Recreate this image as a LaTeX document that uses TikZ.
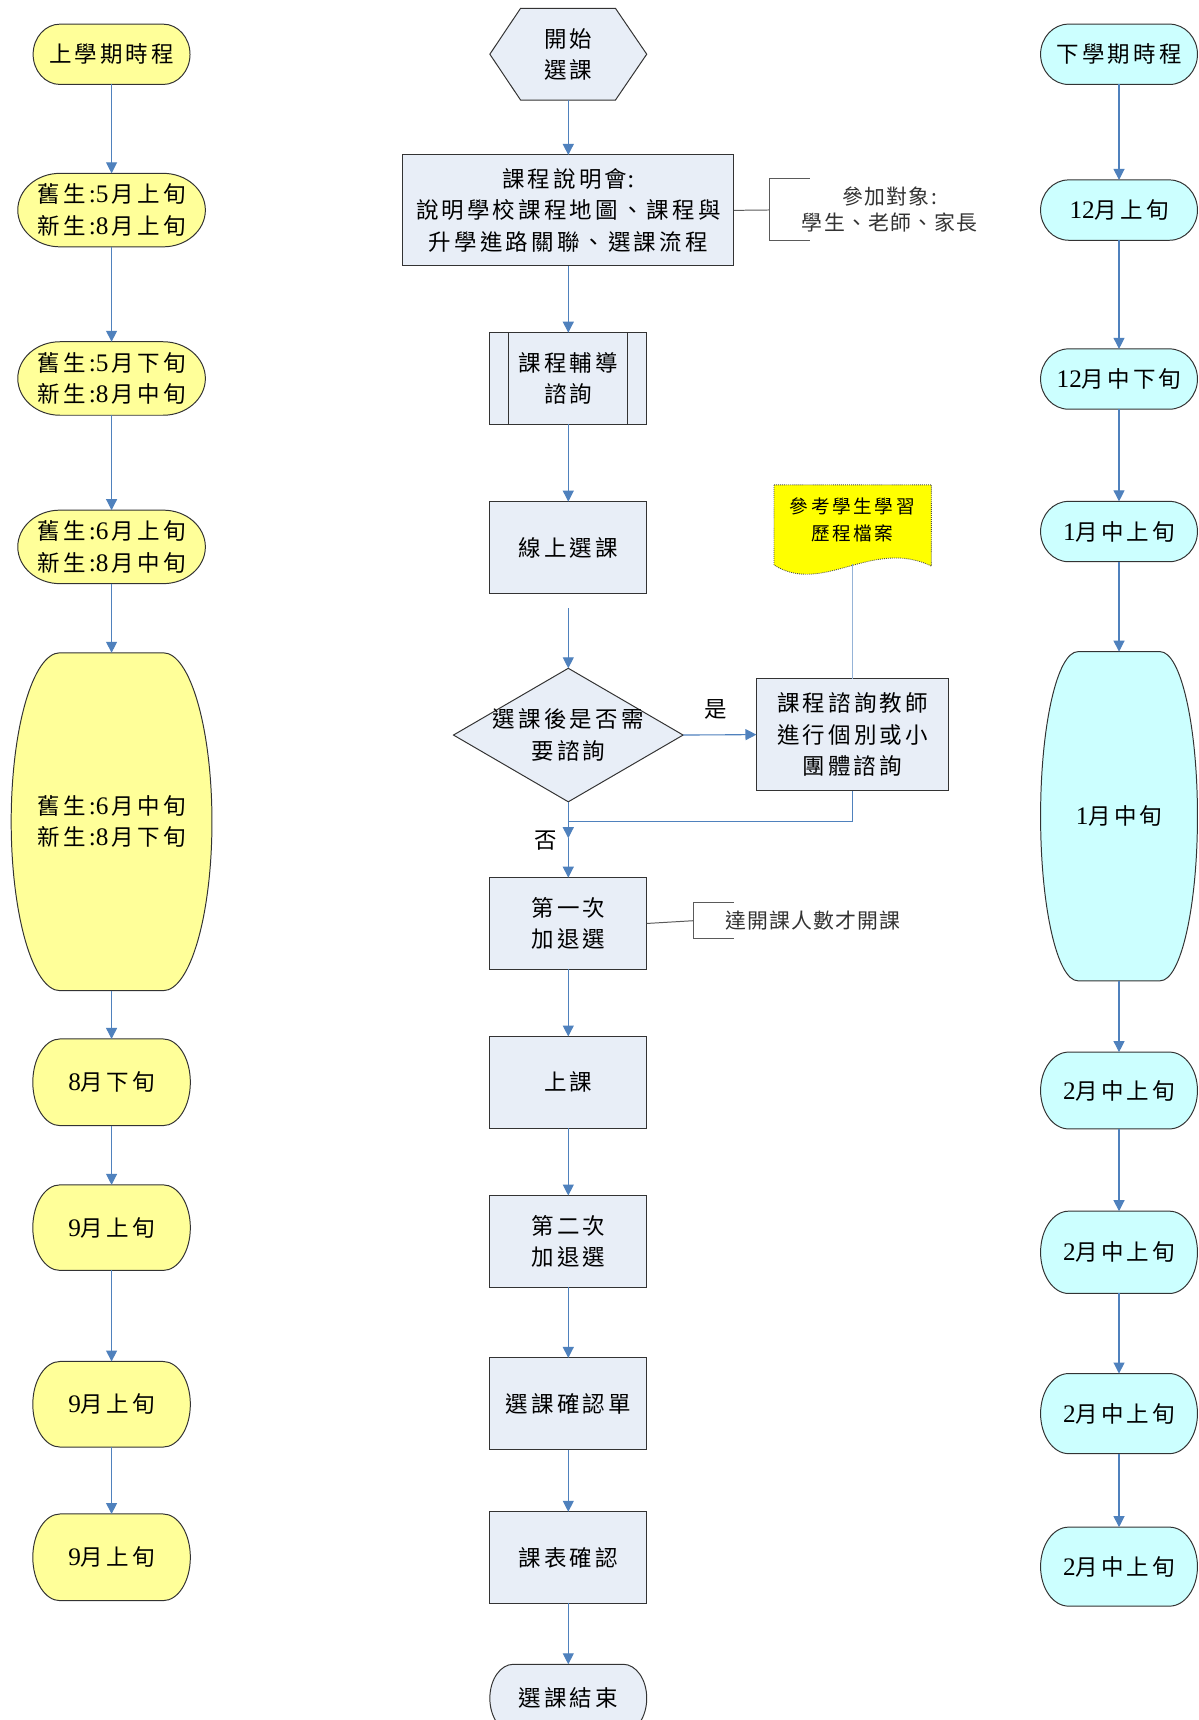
\documentclass[tikz,border=0pt]{standalone}
\usepackage{fontspec}
\setmainfont{Noto Sans CJK TC}
\newfontfamily\cjk{Noto Sans CJK TC}[LetterSpace=14]
\newfontfamily\cjkn{Noto Sans CJK TC}[LetterSpace=6]
\newfontfamily\latd{Liberation Serif}
\newcommand\dg[1]{{\latd\fontsize{23}{28.5}\selectfont #1}}
\newcommand\dgs[1]{{\kern3pt\latd\fontsize{23}{28.5}\selectfont #1\kern3pt}}
\usetikzlibrary{arrows.meta}
\definecolor{boxfill}{HTML}{E8EEF7}
\definecolor{lefty}{HTML}{FFFF99}
\definecolor{rightc}{HTML}{CCFFFF}
\definecolor{docy}{HTML}{FFFF00}
\definecolor{arrowc}{HTML}{4F81BD}
\definecolor{annoc}{HTML}{5A5A5A}
\tikzset{
  shapeline/.style={draw=black!80, line width=0.9pt},
  lbl/.style={font=\cjk\fontsize{20.5}{28.5}\selectfont, align=center, inner sep=0pt, outer sep=0pt},
  pilltext/.style={lbl, rectangle, draw=none},
  box/.style={shapeline, fill=boxfill, rectangle, lbl, minimum width=143, minimum height=83.5},
  arr/.style={draw=arrowc, line width=1pt, -{Triangle[length=10pt,width=10pt]}},
  link/.style={draw=arrowc, line width=1pt},
  anno/.style={draw=annoc, line width=0.9pt},
  annotext/.style={font=\cjkn\fontsize{19}{24}\selectfont, text=black!80, align=center, inner sep=0pt},
  doctext/.style={font=\cjk\fontsize{17}{24}\selectfont, align=center, inner sep=0pt},
}
% name, cx, cy, half width, half height, flat half width, fill, text
\newcommand\pill[8]{%
  \draw[shapeline, fill=#7] (#2+#6,#3-#5) arc[start angle=-90, end angle=90, x radius={#4-#6}, y radius={#5}]
    -- (#2-#6,#3+#5) arc[start angle=90, end angle=270, x radius={#4-#6}, y radius={#5}] -- cycle;
  \node[pilltext, minimum width={2*#4}, minimum height={2*#5}] (#1) at (#2,#3) {#8};
}
\begin{document}
\begin{tikzpicture}[x=1pt,y=-1pt]
\useasboundingbox (0,0) rectangle (1092,1567.8);
\clip (0,0) rectangle (1092,1567.8);
\fill[white] (0,0) rectangle (1092,1567.8);

% ---------- left column ----------
\pill{L0}{101.7}{49.5}{71.5}{27.5}{47}{lefty}{上學期時程}
\pill{L1}{101.7}{191.5}{85.5}{33.5}{47}{lefty}{舊生\dgs{:5}月上旬\\新生\dgs{:8}月上旬}
\pill{L2}{101.7}{345}{85.5}{33.5}{47}{lefty}{舊生\dgs{:5}月下旬\\新生\dgs{:8}月中旬}
\pill{L3}{101.7}{498.5}{85.5}{33.5}{47}{lefty}{舊生\dgs{:6}月上旬\\新生\dgs{:8}月中旬}
\pill{L4}{101.7}{749}{91.5}{154}{47}{lefty}{舊生\dgs{:6}月中旬\\新生\dgs{:8}月下旬}
\pill{L5}{101.7}{986.5}{71.8}{39.5}{47}{lefty}{\dg{8}月下旬}
\pill{L6}{101.7}{1119}{71.8}{39}{47}{lefty}{\dg{9}月上旬}
\pill{L7}{101.7}{1280}{71.8}{39}{47}{lefty}{\dg{9}月上旬}
\pill{L8}{101.7}{1419.5}{71.8}{39.5}{47}{lefty}{\dg{9}月上旬}
\foreach \a/\b in {L0/L1,L1/L2,L2/L3,L3/L4,L4/L5,L5/L6,L6/L7,L7/L8}
  \draw[arr] (\a.south) -- (\b.north);

% ---------- right column ----------
\pill{R0}{1020}{49.5}{71.5}{27.5}{46}{rightc}{下學期時程}
\pill{R1}{1020}{191.5}{71.5}{27.5}{46}{rightc}{\dg{12}月上旬}
\pill{R2}{1020}{345.5}{71.5}{27.5}{46}{rightc}{\dg{12}月中下旬}
\pill{R3}{1020}{484.5}{71.5}{27.5}{46}{rightc}{\dg{1}月中上旬}
\pill{R4}{1020}{744}{71.5}{150}{37.5}{rightc}{\dg{1}月中旬}
\pill{R5}{1020}{994}{71.5}{35}{46}{rightc}{\dg{2}月中上旬}
\pill{R6}{1020}{1141.5}{71.5}{37.5}{46}{rightc}{\dg{2}月中上旬}
\pill{R7}{1020}{1288.5}{71.5}{36.5}{46}{rightc}{\dg{2}月中上旬}
\pill{R8}{1020}{1428}{71.5}{36}{46}{rightc}{\dg{2}月中上旬}
\foreach \a/\b in {R0/R1,R1/R2,R2/R3,R3/R4,R4/R5,R5/R6,R6/R7,R7/R8}
  \draw[arr] (\a.south) -- (\b.north);

% ---------- centre column ----------
\draw[shapeline, fill=boxfill] (446.5,49.4) -- (474.5,7.6) -- (561,7.6) -- (589.5,49.4) -- (561,91.2) -- (474.5,91.2) -- cycle;
\node[pilltext, minimum width=143, minimum height=83.6] (start) at (518,49.4) {開始\\選課};

\node[box, minimum width=302, minimum height=101] (b1) at (518,191.75) {課程說明會\dg{:}\\說明學校課程地圖、課程與\\升學進路關聯、選課流程};
\node[box] (b2) at (518,345) {課程輔導\\諮詢};
\draw[shapeline] ([xshift=16.8pt]b2.north west) -- ([xshift=16.8pt]b2.south west);
\draw[shapeline] ([xshift=-17.5pt]b2.north east) -- ([xshift=-17.5pt]b2.south east);
\node[box] (b3) at (518,499) {線上選課};
\coordinate (a3) at (518,554.5);

\node[minimum width=209.3, minimum height=121.7, inner sep=0pt, outer sep=0pt] (dia) at (518,670) {};
\draw[shapeline, fill=boxfill] (dia.west) -- (dia.north) -- (dia.east) -- (dia.south) -- cycle;
\node[lbl] (diat) at (518,670) {選課後是否需\\要諮詢};

\node[box, minimum width=175, minimum height=102] (couns) at (777,669.6) {課程諮詢教師\\進行個別或小\\團體諮詢};

\draw[draw=black!70, densely dotted, line width=0.8pt, fill=docy] (705.5,442) -- (849,442) -- (849,516) .. controls (795,490) and (750,543) .. (705.5,515) -- cycle;
\node[doctext] (doc) at (777,474) {參考學生學習\\歷程檔案};
\coordinate (docb) at (777,514);
\draw[draw=arrowc!60, line width=0.5pt] (docb) -- (couns.north);

\node[box] (b4) at (518,841.75) {第一次\\加退選};
\node[box] (b5) at (518,986.5) {上課};
\node[box] (b6) at (518,1131.5) {第二次\\加退選};
\node[box] (b7) at (518,1279.5) {選課確認單};
\node[box] (b8) at (518,1419.75) {課表確認};
\pill{E}{518}{1548}{71.5}{31}{50}{boxfill}{選課結束}

\coordinate (j0) at (518,749);
\coordinate (j1) at (518,764);

\draw[arr] (start.south) -- (b1.north);
\draw[arr] (b1.south) -- (b2.north);
\draw[arr] (b2.south) -- (b3.north);
\draw[arr] (a3) -- (dia.north);
\draw[arr] (dia.east) -- (couns.west);
\node[lbl] (yes) at (652,647) {是};
\draw[link] (couns.south) |- (j0);
\draw[arr] (dia.south) -- (j1);
\draw[arr] (j1) -- (b4.north);
\node[lbl] (no) at (497,766) {否};
\draw[arr] (b4.south) -- (b5.north);
\draw[arr] (b5.south) -- (b6.north);
\draw[arr] (b6.south) -- (b7.north);
\draw[arr] (b7.south) -- (b8.north);
\draw[arr] (b8.south) -- (E.north);

% annotations
\coordinate (n0) at (701.5,191.4);
\draw[anno] (b1.east) -- (n0);
\draw[anno] (738,163) -- (701.5,163) -- (701.5,219.4) -- (738,219.4);
\node[annotext] (t0) at (811,191) {參加對象:\\學生、老師、家長};

\coordinate (n1) at (632.4,839.2);
\draw[anno] (b4.east) -- (n1);
\draw[anno] (668.8,822.8) -- (632.4,822.8) -- (632.4,855.3) -- (668.8,855.3);
\node[annotext] (t1) at (741,839) {達開課人數才開課};
\end{tikzpicture}
\end{document}
